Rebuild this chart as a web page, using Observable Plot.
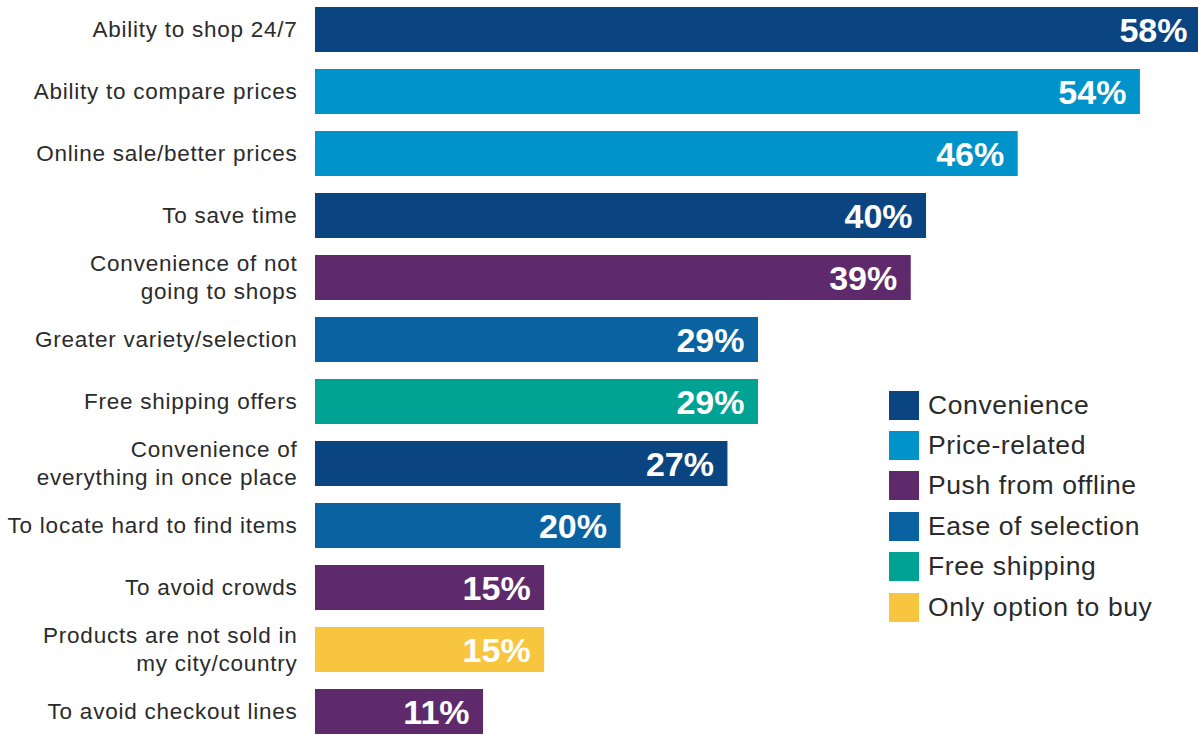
<!DOCTYPE html>
<html>
<head>
<meta charset="utf-8">
<script src="https://cdn.jsdelivr.net/npm/d3@7"></script>
<script src="https://cdn.jsdelivr.net/npm/@observablehq/plot@0.6"></script>
<style>
  html, body { margin: 0; padding: 0; background: #fff; }
  #wrap { position: relative; width: 1198px; height: 735px; overflow: hidden; font-family: "Liberation Sans", Arial, sans-serif; }
  #legend { position: absolute; left: 889px; top: 385px; }
  .li { display: flex; align-items: center; height: 40.4px; }
  .sw { width: 30px; height: 29px; margin-right: 9px; }
  .lt { font-size: 26.5px; color: #2a2a2a; letter-spacing: 0.6px; }
</style>
</head>
<body>
<div id="wrap"></div>
<script>
const reasons = [
  "Ability to shop 24/7",
  "Ability to compare prices",
  "Online sale/better prices",
  "To save time",
  "Convenience of not\ngoing to shops",
  "Greater variety/selection",
  "Free shipping offers",
  "Convenience of\neverything in once place",
  "To locate hard to find items",
  "To avoid crowds",
  "Products are not sold in\nmy city/country",
  "To avoid checkout lines"
];
const values = [58, 54, 46, 40, 39, 29, 29, 27, 20, 15, 15, 11];
const groups = [
  "Convenience", "Price-related", "Price-related", "Convenience", "Push from offline",
  "Ease of selection", "Free shipping", "Convenience", "Ease of selection",
  "Push from offline", "Only option to buy", "Push from offline"
];
const categories = ["Convenience", "Price-related", "Push from offline", "Ease of selection", "Free shipping", "Only option to buy"];
const colors = ["#0b4581", "#0093c9", "#5f2a6b", "#0a63a0", "#00a393", "#f8c53f"];

const data = reasons.map((r, i) => ({reason: r, value: values[i], group: groups[i]}));

const chart = Plot.plot({
  width: 1198,
  height: 735,
  marginLeft: 0, marginRight: 0, marginTop: 0, marginBottom: 0,
  style: {fontFamily: "'Liberation Sans', Arial, sans-serif", background: "#fff"},
  x: {domain: [0, 58], range: [315, 1201], axis: null},
  y: {domain: reasons, range: [-3.2, 744.6], paddingInner: 0.28, paddingOuter: 0.14, axis: null},
  color: {domain: categories, range: colors},
  marks: [
    Plot.barX(data, {x: "value", y: "reason", fill: "group"}),
    Plot.text(data, {x: 0, y: "reason", text: "reason", textAnchor: "end", dx: -18, dy: -2, fontSize: 22.5, lineHeight: 1.24, fill: "#2b2b2b"}),
    Plot.text(data, {x: "value", y: "reason", text: d => d.value + "%", textAnchor: "end", dx: -14, dy: 1, fontSize: 34, fontWeight: "bold", fill: "white"})
  ]
});

// widen the category labels slightly (letter spacing) to match the reference typeface
d3.select(chart).selectAll('g[aria-label="text"]').filter((d, i) => i === 0).attr("letter-spacing", "0.75px");

const wrap = document.getElementById("wrap");
wrap.appendChild(chart);
const legend = document.createElement("div");
legend.id = "legend";
categories.forEach((c, i) => {
  const row = document.createElement("div");
  row.className = "li";
  const sw = document.createElement("div");
  sw.className = "sw";
  sw.style.background = colors[i];
  const t = document.createElement("span");
  t.className = "lt";
  t.textContent = c;
  row.appendChild(sw); row.appendChild(t);
  legend.appendChild(row);
});
wrap.appendChild(legend);
</script>
</body>
</html>
